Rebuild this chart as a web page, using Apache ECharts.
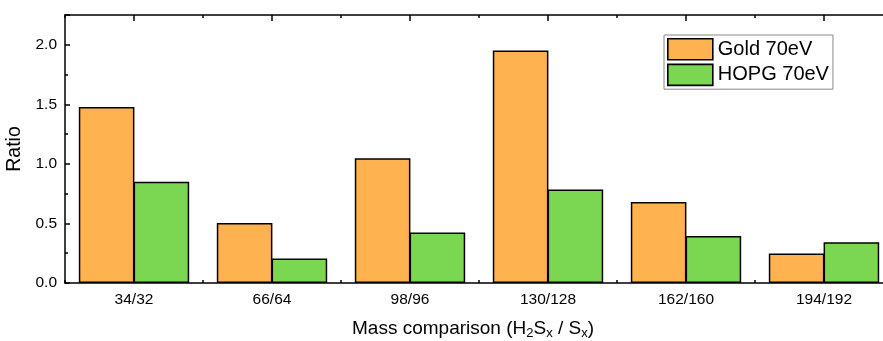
<!DOCTYPE html>
<html><head><meta charset="utf-8">
<script src="https://cdn.jsdelivr.net/npm/echarts@6/dist/echarts.min.js"></script>
<style>html,body{margin:0;padding:0;background:#fff}#c{width:883px;height:341px}</style>
</head><body><div id="c"></div>
<script>
const categories = ['34/32','66/64','98/96','130/128','162/160','194/192'];
const goldValues = [1.478, 0.504, 1.048, 1.952, 0.680, 0.247];
const hopgValues = [0.849, 0.205, 0.424, 0.785, 0.395, 0.342];
const seriesNames = ['Gold 70eV', 'HOPG 70eV'];
const yTicks = {min: 0, max: 2.25, interval: 0.5};

const FONT = 'Liberation Sans, Arial, sans-serif';
const chart = echarts.init(document.getElementById('c'), null, {renderer: 'canvas'});
const axisLine = {show: true, lineStyle: {color: '#000', width: 1.5}};
chart.setOption({
  animation: false,
  backgroundColor: '#fff',
  grid: {left: 65, top: 15, width: 828, height: 268, containLabel: false, outerBoundsMode: 'none'},
  legend: {
    orient: 'vertical', left: 664, top: 35,
    itemWidth: 45, itemHeight: 21, itemGap: 3, itemTextGap: 5,
    padding: [3, 4, 3, 3],
    backgroundColor: '#fff', borderColor: '#888', borderWidth: 1,
    icon: 'rect',
    itemStyle: {borderColor: '#000', borderWidth: 1.6},
    textStyle: {fontFamily: FONT, fontSize: 20, color: '#000'},
    data: seriesNames
  },
  xAxis: [
    {type: 'category', data: categories, position: 'bottom',
     axisLine: axisLine,
     axisTick: {show: true, inside: true, length: 3, lineStyle: {color: '#000', width: 1.5}},
     axisLabel: {fontFamily: FONT, fontSize: 15.5, color: '#000', margin: 9},
     name: 'Mass comparison (H{s|2}S{s|x} / S{s|x})',
     nameLocation: 'middle', nameGap: 34,
     nameTextStyle: {fontFamily: FONT, fontSize: 19, color: '#000', padding: [0, 12, 0, 0],
       rich: {s: {fontFamily: FONT, fontSize: 13, color: '#000', padding: [10, 0, 0, 0]}}}
    },
    {type: 'category', data: categories, position: 'top',
     axisLine: axisLine,
     axisTick: {show: true, inside: true, length: 6, alignWithLabel: true, lineStyle: {color: '#000', width: 1.5}},
     axisLabel: {show: false}},
    {type: 'category', data: categories, position: 'top',
     axisLine: {show: false},
     axisTick: {show: true, inside: true, length: 3, lineStyle: {color: '#000', width: 1.5}},
     axisLabel: {show: false}}
  ],
  yAxis: {
    type: 'value', min: yTicks.min, max: yTicks.max, interval: yTicks.interval,
    axisLine: axisLine,
    axisTick: {show: true, inside: true, length: 5, lineStyle: {color: '#000', width: 1.5}},
    minorTick: {show: true, splitNumber: 2, length: 3, lineStyle: {color: '#000', width: 1.5}},
    splitLine: {show: false},
    axisLabel: {fontFamily: FONT, fontSize: 15.5, color: '#000', margin: 8,
      formatter: v => (v > 2.1 ? '' : v.toFixed(1)), showMaxLabel: false},
    name: 'Ratio', nameLocation: 'middle', nameGap: 4, nameRotate: 90,
    nameTextStyle: {fontFamily: FONT, fontSize: 19.5, color: '#000', lineHeight: 12}
  },
  series: [
    {name: seriesNames[0], type: 'bar', data: goldValues, barGap: '-1.5%', barCategoryGap: '20%',
     itemStyle: {color: '#FFB24F', borderColor: '#000', borderWidth: 1.5}},
    {name: seriesNames[1], type: 'bar', data: hopgValues, barGap: '-1.5%', barCategoryGap: '20%',
     itemStyle: {color: '#7BD751', borderColor: '#000', borderWidth: 1.5}}
  ]
});
</script></body></html>
